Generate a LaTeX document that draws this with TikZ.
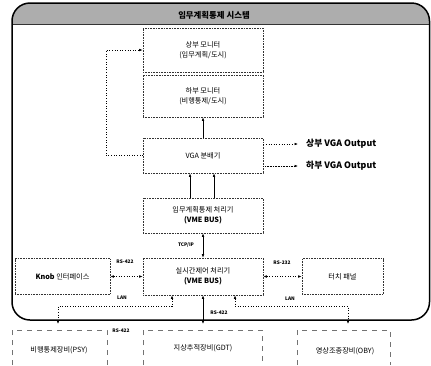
\documentclass[tikz,border=0pt]{standalone}
\usepackage{fontspec}
\setmainfont{Noto Sans CJK KR}
\usetikzlibrary{arrows.meta}
\tikzset{
  box/.style={draw=black!80, densely dotted, line width=0.6pt, fill=white, align=center, inner sep=1pt,
    font=\fontsize{7.2}{10}\selectfont},
  tip/.style={-{Latex[length=3.5pt,width=2.6pt]}},
  btip/.style={{Latex[length=3.5pt,width=2.6pt]}-{Latex[length=3.5pt,width=2.6pt]}},
  sline/.style={line width=0.6pt, black},
  dline/.style={line width=0.6pt, black, dotted},
  lab/.style={font=\bfseries\fontsize{4.8}{5}\selectfont, inner sep=0pt},
  outlab/.style={font=\bfseries\fontsize{8.8}{10}\selectfont, inner sep=0pt, anchor=west},
  bbox/.style={draw=black!55, line width=0.6pt, dash pattern=on 5pt off 5pt},
  btext/.style={font=\fontsize{7.2}{8}\selectfont, inner sep=0pt}
}
\begin{document}
\begin{tikzpicture}[x=1pt,y=-1pt]
\useasboundingbox (0,0) rectangle (431,365);
\fill[white] (0,0) rectangle (431,365);
% panel
\begin{scope}
  \clip[rounded corners=18pt] (12,3) rectangle (429.5,320);
  \fill[black!32] (12,3) rectangle (429.5,24);
  \draw[black!80, line width=0.8pt] (12,24.5) -- (429.5,24.5);
\end{scope}
\draw[black, line width=1.5pt, rounded corners=18pt] (12,3) rectangle (429.5,320);
\node[font=\bfseries\fontsize{8.4}{9}\selectfont, text=black, inner sep=0pt] (title) at (214,15) {임무계획통제 시스템};

% boxes
\node[box, minimum width=120pt, minimum height=44pt] (m1) at (203,50) {상부 모니터\\(임무계획/도시)};
\node[box, minimum width=120pt, minimum height=42pt] (m2) at (203,96) {하부 모니터\\(비행통제/도시)};
\node[box, minimum width=120pt, minimum height=35pt] (vga) at (203,155.5) {VGA 분배기};
\node[box, minimum width=120pt, minimum height=35pt] (mp) at (203,215.5) {임무계획통제 처리기\\\textbf{(VME BUS)}};
\node[box, minimum width=120pt, minimum height=37pt] (rt) at (203,276.5) {실시간제어 처리기\\\textbf{(VME BUS)}};
\node[box, minimum width=95pt, minimum height=36pt] (knob) at (62.5,276.5) {\textbf{Knob} 인터페이스};
\node[box, minimum width=81pt, minimum height=36pt] (touch) at (342.5,276.5) {터치 패널};

% VGA connections
\coordinate (lp) at (106,155.5);
\draw[dline, tip] (vga.west) -- (lp) |- (m1.west);
\draw[sline, tip] (vga.north) -- (m2.south);
\draw[sline, tip] ([xshift=-13pt]mp.north) -- ([xshift=-13pt]vga.south);
\draw[sline, tip] ([xshift=11pt]mp.north) -- ([xshift=11pt]vga.south);

\node[outlab] (o1) at (306,144) {상부 VGA Output};
\node[outlab] (o2) at (306,166) {하부 VGA Output};
\draw[dline, tip] (vga.east |- o1) -- ([xshift=-8pt]o1.west);
\draw[line width=0.6pt, densely dotted, tip] (vga.east |- o2) -- ([xshift=-8pt]o2.west);

% processor links
\draw[sline, btip] (mp.south) -- (rt.north);
\node[lab] (tcp) at (186,245) {TCP/IP};
\draw[dline, btip] (knob.east) -- (rt.west);
\node[lab] (rs1) at (125,262) {RS-422};
\draw[dline, btip] (touch.west) -- (rt.east);
\node[lab] (rs2) at (282,263) {RS-232};

% bottom links
\coordinate (bl) at (58,324);
\coordinate (bm) at (203,324);
\coordinate (br) at (348,324);
\draw[dline, btip] ([xshift=-31pt]rt.south) -- ++(0,11) -| (bl);
\draw[dline, btip] ([xshift=32pt]rt.south) -- ++(0,11) -| (br);
\draw[sline, btip] (rt.south) -- (bm);
\node[lab] (lan1) at (122,298) {LAN};
\node[lab] (lan2) at (290,299) {LAN};
\node[lab] (rs3) at (219,313) {RS-422};
\node[lab] (rs4) at (121,331) {RS-422};

% bottom boxes (cut off)
\draw[bbox] (12,365) -- (12,330) -- (107,330) -- (107,365);
\draw[bbox] (143,365) -- (143,330) -- (262,330) -- (262,365);
\draw[bbox] (297,365) -- (297,330) -- (390,330) -- (390,365);
\node[btext] (b1) at (59,350) {비행통제장비(PSY)};
\node[btext] (b2) at (203,348) {지상추적장비(GDT)};
\node[btext] (b3) at (345,351) {영상조종장비(OBY)};
\end{tikzpicture}
\end{document}
